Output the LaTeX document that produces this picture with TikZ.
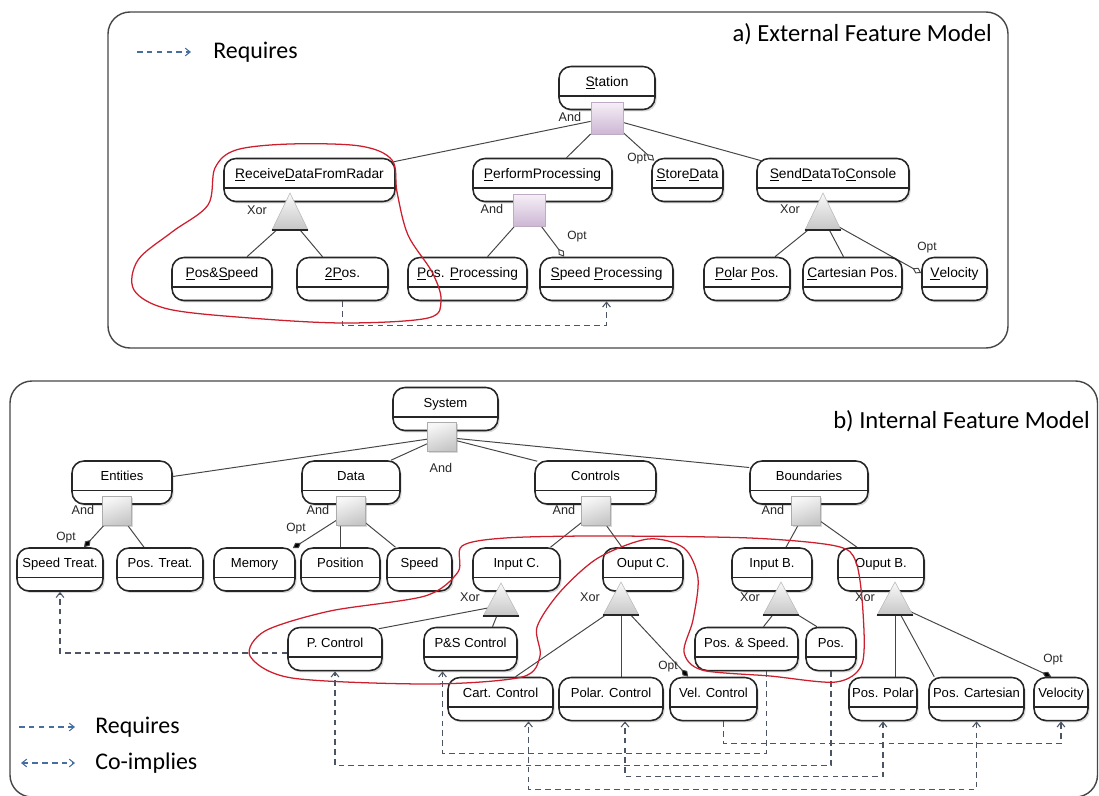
\documentclass[tikz,border=0pt]{standalone}
\usepackage{fontspec}
\setmainfont{Liberation Sans}
\newfontfamily\calibfont{Carlito}
\usetikzlibrary{arrows.meta, calc, shadows, backgrounds}

\definecolor{linkgray}{RGB}{70,70,70}
\definecolor{depgray}{RGB}{75,85,100}
\definecolor{legblue}{RGB}{70,110,160}
\definecolor{loopred}{RGB}{205,30,45}
\definecolor{framegray}{RGB}{70,70,70}
\definecolor{lavlt}{RGB}{246,240,247}
\definecolor{lavdk}{RGB}{205,182,212}

\newcommand\mnem[1]{\underline{#1}}

\tikzset{
  xortri/.pic={
    \draw[top color=gray!4, bottom color=gray!45, draw=gray!55, line width=0.4pt]
      (0,-25) -- (18,12) -- (-18,12) -- cycle;
    \draw[gray!30!black, line width=1.2pt] (-18,12) -- (18,12);
  }
}

\begin{document}
\begin{tikzpicture}[
  x=0.025cm, y=-0.025cm,
  every node/.style={font=\fontsize{9}{10}\selectfont},
  feat/.style={draw=black!85, line width=1.1pt, fill=white, rounded corners=0.3cm,
    minimum width=#1*0.025cm, inner sep=0pt, text height=14pt, text depth=16.6pt,
    font=\fontsize{9.3}{11}\selectfont,
    drop shadow={opacity=0.3, shadow xshift=1.2pt, shadow yshift=-1.4pt},
    path picture={\draw[line width=1pt, black!85]
      ([yshift=0.34cm]path picture bounding box.south west) --
      ([yshift=0.34cm]path picture bounding box.south east);}},
  featA/.style={feat=#1, font=\fontsize{9.8}{11}\selectfont},
  andsq/.style={draw=gray!65, line width=0.5pt, inner sep=0pt, minimum size=29*0.025cm,
    top color=gray!6, bottom color=gray!45, shading angle=20,
    drop shadow={opacity=0.3, shadow xshift=1pt, shadow yshift=-1pt}},
  pinksq/.style={andsq, minimum size=32*0.025cm, top color=lavlt, bottom color=lavdk,
    draw=lavdk!80!gray},
  link/.style={draw=linkgray, line width=0.7pt},
  optlink/.style={link, -{Diamond[open, length=7pt, width=4.5pt]}},
  optfill/.style={link, -{Diamond[length=7pt, width=4.5pt, fill=black]}},
  req/.style={draw=depgray, line width=0.75pt, dash pattern=on 4pt off 3pt,
    -{Straight Barb[length=3.5pt, width=5.5pt]}},
  coimp/.style={req, {Straight Barb[length=3.5pt, width=5.5pt]}-{Straight Barb[length=3.5pt, width=5.5pt]}},
  legreq/.style={req, draw=legblue},
  legco/.style={coimp, draw=legblue},
  redloop/.style={draw=loopred, line width=0.9pt},
  panelbox/.style={draw=framegray, line width=1pt, rounded corners=0.55cm},
  lbl/.style={font=\fontsize{9}{10}\selectfont, inner sep=0pt, text=black!85},
  optl/.style={font=\fontsize{8.5}{9}\selectfont, inner sep=0pt, text=black!85},
  ttl/.style={font=\calibfont\fontsize{17.5}{20}\selectfont, inner sep=0pt},
  legtxt/.style={font=\calibfont\fontsize{17}{20}\selectfont, inner sep=0pt},
]
  \useasboundingbox (0,0) rectangle (1099,796);

  % a) external feature model
  \node[featA=96] (station) at (607,88) {\mnem{S}tation};
  \node[featA=171] (recv) at (309.5,180) {\mnem{R}eceive\mnem{D}ataFromRadar};
  \node[featA=139] (perf) at (542.5,180) {\mnem{P}erformProcessing};
  \node[featA=71] (store) at (687.5,180) {\mnem{S}tore\mnem{D}ata};
  \node[featA=152] (send) at (833,180) {\mnem{S}end\mnem{D}ataTo\mnem{C}onsole};

  \node[featA=100] (ps) at (222,279) {\mnem{P}os\&\mnem{S}peed};
  \node[featA=91] (twopos) at (342.5,279) {\mnem{2P}os.};
  \node[featA=119] (posproc) at (467.5,279) {\mnem{P}os. \mnem{P}rocessing};
  \node[featA=133] (spdproc) at (606.5,279) {\mnem{S}peed \mnem{P}rocessing};
  \node[featA=86] (polpos) at (747,279) {\mnem{Po}lar \mnem{P}os.};
  \node[featA=99] (cartpos) at (852.5,279) {\mnem{C}artesian Pos.};
  \node[featA=65] (velo) at (954.5,279) {\mnem{V}elocity};

  % b) internal feature model
  \node[feat=105] (system) at (445.5,409) {System};
  \node[feat=100] (entities) at (122,482.5) {Entities};
  \node[feat=98] (data) at (351,482.5) {Data};
  \node[feat=121] (controls) at (595.5,482.5) {Controls};
  \node[feat=118] (bounds) at (809,482.5) {Boundaries};

  \node[feat=86] (spdtr) at (60,569.5) {Speed Treat.};
  \node[feat=86] (postr) at (160,569.5) {Pos. Treat.};
  \node[feat=81] (memory) at (254.5,569.5) {Memory};
  \node[feat=79] (position) at (340.5,569.5) {Position};
  \node[feat=65] (speed) at (419.5,569.5) {Speed};
  \node[feat=87] (inpc) at (516.5,569.5) {Input C.};
  \node[feat=80] (outc) at (643,569.5) {Ouput C.};
  \node[feat=80] (inpb) at (772,569.5) {Input B.};
  \node[feat=86] (outb) at (881,569.5) {Ouput B.};

  \node[feat=94] (pctl) at (335,649) {P. Control};
  \node[feat=93] (psctl) at (470.5,649) {P\&S Control};
  \node[feat=103] (posspd) at (746.5,649) {Pos. \& Speed.};
  \node[feat=50] (pos) at (831,649) {Pos.};

  \node[feat=105] (cartctl) at (500.5,699) {Cart. Control};
  \node[feat=104] (polctl) at (611,699) {Polar. Control};
  \node[feat=87] (velctl) at (713.5,699) {Vel. Control};
  \node[feat=68] (pospol) at (883,699) {Pos. Polar};
  \node[feat=95] (poscart) at (976.5,699) {Pos. Cartesian};
  \node[feat=54] (velb) at (1061,699) {Velocity};

  % decomposition symbols
  \node[pinksq] (sqSt) at (607,118) {};
  \node[pinksq] (sqPf) at (529,210) {};
  \node[andsq] (sqSy) at (442,437) {};
  \node[andsq] (sqEn) at (117,511) {};
  \node[andsq] (sqDa) at (351,511) {};
  \node[andsq] (sqCo) at (596,511) {};
  \node[andsq] (sqBo) at (806,511) {};

  \coordinate (tRecv) at (290,218);
  \coordinate (tSend) at (823,218);
  \coordinate (tInC) at (501,605.5);
  \coordinate (tOutC) at (621,604.5);
  \coordinate (tInB) at (781,604.5);
  \coordinate (tOutB) at (895,604.5);
  \pic at (tRecv) {xortri};
  \pic at (tSend) {xortri};
  \pic[yscale=0.9] at (tInC) {xortri};
  \pic[yscale=0.9] at (tOutC) {xortri};
  \pic[yscale=0.9] at (tInB) {xortri};
  \pic[yscale=0.9] at (tOutB) {xortri};

  \begin{scope}[on background layer]
    \draw[panelbox] (108,12) rectangle (1008,348);
    \draw[panelbox] (10,381) rectangle (1097.5,797);

    \draw[link] (sqSt) -- ($(recv.north east)+(-2,4)$);
    \draw[link] (sqSt) -- ($(perf.north)+(24,0)$);
    \draw[optlink] (sqSt) -- ($(store.north west)+(3,3)$);
    \draw[link] (sqSt) -- ($(send.north west)+(5,3)$);
    \draw[link] (tRecv) -- ($(ps.north)+(25,0)$);
    \draw[link] (tRecv) -- ($(twopos.north)+(-20,0)$);
    \draw[link] (sqPf) -- ($(posproc.north)+(20,0)$);
    \draw[optlink] (sqPf) -- ($(spdproc.north west)+(25,0)$);
    \draw[link] (tSend) -- ($(polpos.north)+(28,0)$);
    \draw[link] (tSend) -- ($(cartpos.north)+(-9,0)$);
    \draw[optlink] (tSend) -- ($(velo.west)+(0,-6)$);

    \draw[link] (sqSy) -- ($(entities.east)+(0,-6)$);
    \draw[link] (sqSy) -- ($(data.north)+(40,0)$);
    \draw[link] (sqSy) -- ($(controls.north west)+(3,1)$);
    \draw[link] (sqSy) -- ($(bounds.west)+(0,-15)$);
    \draw[optfill] (sqEn) -- ($(spdtr.north)+(24,0)$);
    \draw[link] (sqEn) -- ($(postr.north)+(-16,0)$);
    \draw[optfill] (sqDa) -- ($(memory.north east)+(-3,1)$);
    \draw[link] (sqDa.south -| position.north) -- (position.north);
    \draw[link] (sqDa) -- ($(speed.north)+(-24,0)$);
    \draw[link] (sqCo) -- ($(inpc.north)+(34,0)$);
    \draw[link] (sqCo) -- ($(outc.north)+(-21,0)$);
    \draw[link] (sqBo) -- ($(inpb.north)+(14,0)$);
    \draw[link] (sqBo) -- ($(outb.north)+(-24,0)$);
    \draw[link] (tInC) -- ($(pctl.north east)+(-4,2)$);
    \draw[link] (tInC) -- ($(psctl.north)+(22,0)$);
    \draw[link] (tOutC) -- ($(cartctl.north)+(15,0)$);
    \draw[link] (tOutC) -- (tOutC |- polctl.north);
    \draw[optfill] (tOutC) -- ($(velctl.north west)+(19,0)$);
    \draw[link] (tInB) -- ($(posspd.north)+(17,0)$);
    \draw[link] (tInB) -- ($(pos.north)+(-14,0)$);
    \draw[link] (tOutB) -- (tOutB |- pospol.north);
    \draw[link] (tOutB) -- ($(poscart.north west)+(6,0)$);
    \draw[optfill] (tOutB) -- ($(velb.north west)+(18,0)$);

    % requires / co-implies
    \draw[req] (twopos.south) -- ++(0,24) -| (spdproc.south);
    \draw[req] ($(pctl.west)+(0,4)$) -| (spdtr.south);
    \draw[req] ($(posspd.south)+(20,0)$) -- ++(0,82) -| ($(psctl.south)+(-28,0)$);
    \draw[req] (pos.south) -- ++(0,94) -| (pctl.south);
    \draw[coimp] (pospol.south) -- ++(0,55) -| ($(polctl.south)+(14,0)$);
    \draw[coimp] (poscart.south) -- ++(0,68) -| ($(cartctl.south)+(28,0)$);
    \draw[req] ($(velctl.south)+(10,0)$) -- ++(0,22) -| (velb.south);
  \end{scope}

  % labels
  \node[lbl] (andSt) at (570,117) {And};
  \node[lbl] (xorRecv) at (257,210) {Xor};
  \node[lbl] (andPf) at (492,209) {And};
  \node[optl] (optPf) at (577,237) {Opt};
  \node[optl] (optSt) at (637,159) {Opt};
  \node[lbl] (xorSend) at (790,209) {Xor};
  \node[optl] (optVel) at (927,248) {Opt};

  \node[lbl] (andSy) at (441,468) {And};
  \node[lbl] (andEn) at (83,510) {And};
  \node[optl] (optEn) at (66,538) {Opt};
  \node[lbl] (andDa) at (318,510) {And};
  \node[optl] (optDa) at (296,529) {Opt};
  \node[lbl] (andCo) at (564,510) {And};
  \node[lbl] (andBo) at (773,510) {And};
  \node[lbl] (xorInC) at (470,597) {Xor};
  \node[lbl] (xorOutC) at (590,597) {Xor};
  \node[lbl] (xorInB) at (750,597) {Xor};
  \node[lbl] (xorOutB) at (865,597) {Xor};
  \node[optl] (optVc) at (668,667) {Opt};
  \node[optl] (optVb) at (1053,660) {Opt};

  % titles and legends
  \node[ttl, anchor=east] (ttlA) at (992,34) {a) External Feature Model};
  \node[ttl, anchor=east] (ttlB) at (1090,421) {b) Internal Feature Model};
  \node[legtxt, anchor=west] (lreqA) at (213,52) {Requires};
  \draw[legreq] ($(lreqA.west)+(-76,0)$) -- ($(lreqA.west)+(-22,0)$);
  \node[legtxt, anchor=west] (lreqB) at (95,727) {Requires};
  \draw[legreq] ($(lreqB.west)+(-76,0)$) -- ($(lreqB.west)+(-20,0)$);
  \node[legtxt, anchor=west] (lcoB) at (95,763) {Co-implies};
  \draw[legco] ($(lcoB.west)+(-74,0)$) -- ($(lcoB.west)+(-20,0)$);

  % selections
  \draw[redloop] plot[smooth cycle, tension=0.55] coordinates {(290,144) (360,146) (392,160)
    (397,192) (408,235) (432,272) (441,300) (428,318) (345,323) (250,318) (168,309)
    (134,290) (138,260) (172,232) (208,205) (215,168) (236,150)};
  \draw[redloop] plot[smooth cycle, tension=0.5] coordinates {(462,546) (458,572) (425,596)
    (330,611) (265,631) (250,656) (292,678) (430,684) (522,677) (540,656) (537,627)
    (560,592) (598,558) (648,539) (684,548) (698,578) (693,620) (684,652) (702,670)
    (770,676) (836,682) (862,664) (863,612) (856,562) (836,546) (750,538) (600,536)
    (505,538)};
\end{tikzpicture}
\end{document}
